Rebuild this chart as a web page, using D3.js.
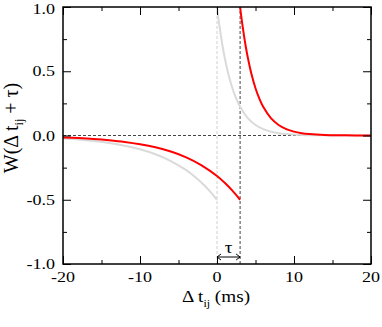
<!DOCTYPE html>
<html>
<head>
<meta charset="utf-8">
<script src="https://cdn.jsdelivr.net/npm/d3@7"></script>
<style>
  body { margin: 0; background: #fff; }
</style>
</head>
<body>
<div id="chart"></div>
<script>
// window W(dt): shifted (red) and original (grey) curves
var redLeftT  = [-20, -18, -16, -14, -12, -10, -8, -6, -4, -2, 0, 1, 2, 3];
var redLeftW  = [-0.015, -0.020, -0.027, -0.037, -0.050, -0.068, -0.092, -0.125, -0.170, -0.232, -0.315, -0.368, -0.429, -0.500];
var redRightT = [3, 3.25, 3.5, 3.75, 4, 4.5, 5, 5.5, 6, 7, 8, 9, 10, 11, 12, 14, 16, 18, 20];
var redRightW = [1.0, 0.882, 0.779, 0.687, 0.607, 0.472, 0.368, 0.287, 0.223, 0.135, 0.082, 0.050, 0.030, 0.018, 0.011, 0.004, 0.0015, 0.0006, 0.0002];

var greyLeftT  = [-20, -18, -16, -14, -12, -10, -8, -6, -4, -3, -2, -1, 0];
var greyLeftW  = [-0.023, -0.031, -0.043, -0.058, -0.079, -0.107, -0.146, -0.199, -0.270, -0.315, -0.368, -0.429, -0.500];
var greyRightT = [0, 0.25, 0.5, 0.75, 1, 1.5, 2, 2.5, 3, 4, 5, 6, 7, 8, 9, 11, 13, 15, 17, 20];
var greyRightW = [1.0, 0.882, 0.779, 0.687, 0.607, 0.472, 0.368, 0.287, 0.223, 0.135, 0.082, 0.050, 0.030, 0.018, 0.011, 0.004, 0.0015, 0.0006, 0.0002, 0.0001];

var xMajor = [-20, -10, 0, 10, 20];
var xMinor = [-15, -5, 5, 15];
var yMajor = [-1.0, -0.5, 0.0, 0.5, 1.0];
var yMinor = [-0.75, -0.25, 0.25, 0.75];
var xTickLabels = ["-20", "-10", "0", "10", "20"];
var yTickLabels = ["-1.0", "-0.5", "0.0", "0.5", "1.0"];
var tau = 3;

var svgWidth = 382, svgHeight = 327;
var margin = {top: 7, right: 11, bottom: 63, left: 63};
var width = svgWidth - margin.left - margin.right;
var height = svgHeight - margin.top - margin.bottom;

var svg = d3.select("#chart").append("svg")
  .attr("width", svgWidth)
  .attr("height", svgHeight)
  .attr("font-family", "'Liberation Serif', 'Times New Roman', 'DejaVu Serif', serif");

var chartGroup = svg.append("g")
  .attr("transform", `translate(${margin.left}, ${margin.top})`);

var x = d3.scaleLinear().domain([-20, 20]).range([0, width]);
var y = d3.scaleLinear().domain([-1, 1]).range([height, 0]);

function zip(ts, ws) { return ts.map(function(t, i) { return [t, ws[i]]; }); }

var line = d3.line()
  .x(d => x(d[0]))
  .y(d => y(d[1]))
  .curve(d3.curveCatmullRom.alpha(0.5));

// reference dashed lines
chartGroup.append("line")
  .attr("x1", x(0)).attr("x2", x(0)).attr("y1", y(-1)).attr("y2", y(1))
  .attr("stroke", "#d0d0d0").attr("stroke-width", 1).attr("stroke-dasharray", "3,2");
chartGroup.append("line")
  .attr("x1", x(-20)).attr("x2", x(20)).attr("y1", y(0)).attr("y2", y(0))
  .attr("stroke", "#444").attr("stroke-width", 1).attr("stroke-dasharray", "3,2");
chartGroup.append("line")
  .attr("x1", x(tau)).attr("x2", x(tau)).attr("y1", y(-1)).attr("y2", y(1))
  .attr("stroke", "#444").attr("stroke-width", 1).attr("stroke-dasharray", "3,2");

// curves
[zip(greyLeftT, greyLeftW), zip(greyRightT, greyRightW)].forEach(function(d) {
  chartGroup.append("path").datum(d).attr("d", line)
    .attr("fill", "none").attr("stroke", "#dadada").attr("stroke-width", 2);
});
[zip(redLeftT, redLeftW), zip(redRightT, redRightW)].forEach(function(d) {
  chartGroup.append("path").datum(d).attr("d", line)
    .attr("fill", "none").attr("stroke", "#ff0000").attr("stroke-width", 2);
});

// axes, ticks pointing inward on all four sides
function addAxis(axis, tx, ty) {
  var g = chartGroup.append("g").attr("transform", `translate(${tx}, ${ty})`).call(axis);
  g.select(".domain").remove();
  g.selectAll("line").attr("stroke", "#000");
  return g;
}
addAxis(d3.axisBottom(x).tickValues(xMajor).tickSize(-8).tickFormat(""), 0, height);
addAxis(d3.axisBottom(x).tickValues(xMinor).tickSize(-4).tickFormat(""), 0, height);
addAxis(d3.axisTop(x).tickValues(xMajor).tickSize(-8).tickFormat(""), 0, 0);
addAxis(d3.axisTop(x).tickValues(xMinor).tickSize(-4).tickFormat(""), 0, 0);
addAxis(d3.axisLeft(y).tickValues(yMajor).tickSize(-8).tickFormat(""), 0, 0);
addAxis(d3.axisLeft(y).tickValues(yMinor).tickSize(-4).tickFormat(""), 0, 0);
addAxis(d3.axisRight(y).tickValues(yMajor).tickSize(-8).tickFormat(""), width, 0);
addAxis(d3.axisRight(y).tickValues(yMinor).tickSize(-4).tickFormat(""), width, 0);

chartGroup.append("rect")
  .attr("width", width).attr("height", height)
  .attr("fill", "none").attr("stroke", "#000").attr("stroke-width", 1.5);

// tick labels (serif, drawn a little wide like the original)
chartGroup.selectAll(".xlab").data(xMajor).enter().append("text")
  .attr("transform", d => `translate(${x(d)}, ${height + 18}) scale(1.2,1)`)
  .attr("text-anchor", "middle")
  .attr("font-size", "15px")
  .text((d, i) => xTickLabels[i]);

chartGroup.selectAll(".ylab").data(yMajor).enter().append("text")
  .attr("transform", d => `translate(-8, ${Math.max(y(d) + 5, 7)}) scale(1.2,1)`)
  .attr("text-anchor", "end")
  .attr("font-size", "15px")
  .text((d, i) => yTickLabels[i]);

// tau marker
var ay = height - 7;
chartGroup.append("line")
  .attr("x1", x(0)).attr("x2", x(tau)).attr("y1", ay).attr("y2", ay)
  .attr("stroke", "#000").attr("stroke-width", 1);
chartGroup.append("path")
  .attr("d", `M${x(0) + 4},${ay - 3} L${x(0)},${ay} L${x(0) + 4},${ay + 3}` +
             `M${x(tau) - 4},${ay - 3} L${x(tau)},${ay} L${x(tau) - 4},${ay + 3}`)
  .attr("fill", "none").attr("stroke", "#000").attr("stroke-width", 1);
chartGroup.append("text")
  .attr("transform", `translate(${(x(0) + x(tau)) / 2}, ${ay - 4}) scale(1.2,1)`)
  .attr("text-anchor", "middle")
  .attr("font-size", "16px")
  .text("τ");

// axis titles
var xTitle = svg.append("text")
  .attr("transform", "translate(216, 302) scale(1.2,1)")
  .attr("text-anchor", "middle")
  .attr("font-size", "16px");
xTitle.append("tspan").text("Δ t");
xTitle.append("tspan").attr("font-size", "10px").attr("dy", 5).text("ij");
xTitle.append("tspan").attr("dy", -5).text(" (ms)");

var yTitle = svg.append("text")
  .attr("transform", "translate(18, 128) rotate(-90)")
  .attr("text-anchor", "middle")
  .attr("font-size", "20px");
yTitle.append("tspan").text("W(Δ t");
yTitle.append("tspan").attr("font-size", "12px").attr("dy", 5).text("ij");
yTitle.append("tspan").attr("dy", -5).text(" + τ)");
</script>
</body>
</html>
